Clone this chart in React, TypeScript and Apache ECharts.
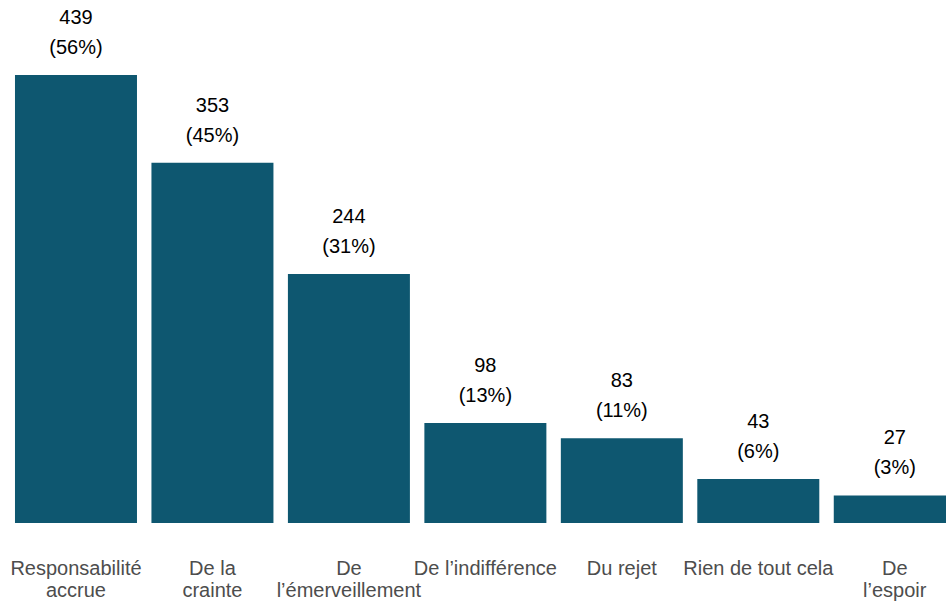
import React, { useEffect, useRef } from "react";
import * as echarts from "echarts";

const categories = [
  "Responsabilité\naccrue",
  "De la\ncrainte",
  "De\nl’émerveillement",
  "De l’indifférence",
  "Du rejet",
  "Rien de tout cela",
  "De\nl’espoir",
];
const counts = [439, 353, 244, 98, 83, 43, 27];
const percents = ["56%", "45%", "31%", "13%", "11%", "6%", "3%"];

export default function App() {
  const ref = useRef<HTMLDivElement>(null);
  useEffect(() => {
    if (!ref.current) return;
    const chart = echarts.init(ref.current, undefined, { renderer: "svg" });
    chart.setOption({
      animation: false,
      backgroundColor: "#ffffff",
      grid: { left: 7.75, right: 0, top: 75, bottom: 81, containLabel: false },
      xAxis: {
        type: "category",
        data: categories,
        axisLine: { show: false },
        axisTick: { show: false },
        axisLabel: {
          interval: 0,
          margin: 34,
          color: "#4d4d4d",
          fontSize: 20,
          lineHeight: 22,
          fontFamily: "Liberation Sans, Arial, sans-serif",
          verticalAlign: "top",
        },
      },
      yAxis: {
        type: "value",
        min: 0,
        max: 439,
        show: false,
        splitLine: { show: false },
      },
      series: [
        {
          type: "bar",
          data: counts,
          barWidth: 122,
          itemStyle: { color: "#0e5770" },
          label: {
            show: true,
            position: "top",
            distance: 13,
            color: "#000000",
            fontSize: 20,
            lineHeight: 30,
            fontFamily: "Liberation Sans, Arial, sans-serif",
            formatter: (p: any) => `${counts[p.dataIndex]}\n(${percents[p.dataIndex]})`,
          },
        },
      ],
    });
    return () => chart.dispose();
  }, []);
  return (
    <div
      style={{ position: "absolute", left: 0, top: 0, width: 946, height: 604, overflow: "hidden" }}
    >
      <div ref={ref} style={{ width: 963, height: 604 }} />
    </div>
  );
}
